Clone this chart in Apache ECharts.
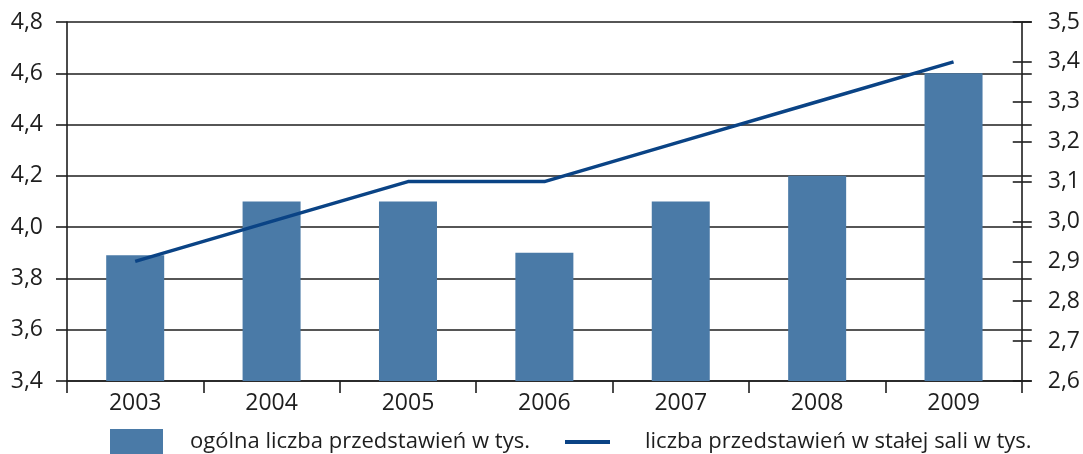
<!DOCTYPE html>
<html>
<head>
<meta charset="utf-8">
<script src="https://cdn.jsdelivr.net/npm/echarts@6/dist/echarts.min.js"></script>
<style>html,body{margin:0;padding:0;background:#fff}#c{width:1083px;height:454px}</style>
</head>
<body>
<div id="c"></div>
<script>
const years = ['2003','2004','2005','2006','2007','2008','2009'];
const totalShows = [3.89, 4.1, 4.1, 3.9, 4.1, 4.2, 4.6];
const hallShows = [2.9, 3.0, 3.1, 3.1, 3.2, 3.3, 3.4];
const barName = 'ogólna liczba przedstawień w tys.';
const lineName = 'liczba przedstawień w stałej sali w tys.';

const FONT = 'Open Sans';
const INK = '#1e1e1e';
const fmt = v => v.toFixed(1).replace('.', ',');

const chart = echarts.init(document.getElementById('c'), null, {renderer: 'canvas'});
chart.setOption({
  animation: false,
  backgroundColor: '#fff',
  textStyle: {fontFamily: FONT, color: INK},
  grid: {left: 67, right: 60, top: 22, bottom: 73, containLabel: false},
  legend: [
    {
      data: [{name: barName, icon: 'rect'}],
      left: 110, top: 429, padding: 0,
      itemWidth: 53, itemHeight: 26,
      textStyle: {fontFamily: FONT, fontSize: 22, color: INK, lineHeight: 26, padding: [0, 0, 0, 22]}
    },
    {
      data: [{name: lineName, icon: 'rect'}],
      left: 565, top: 429, padding: 0,
      itemWidth: 45, itemHeight: 4,
      textStyle: {fontFamily: FONT, fontSize: 22, color: INK, lineHeight: 26, padding: [0, 0, 0, 30]}
    }
  ],
  xAxis: {
    type: 'category',
    data: years,
    boundaryGap: true,
    axisLine: {lineStyle: {color: INK, width: 1.6}},
    axisTick: {show: true, length: 12, lineStyle: {color: INK, width: 1.6}},
    axisLabel: {fontFamily: FONT, fontSize: 23, color: INK, margin: 11},
    splitLine: {show: false}
  },
  yAxis: [
    {
      type: 'value', position: 'left', min: 3.4, max: 4.8, interval: 0.2,
      axisLine: {show: true, lineStyle: {color: INK, width: 1.6}},
      axisTick: {show: true, length: 11, lineStyle: {color: INK, width: 1.6}},
      axisLabel: {fontFamily: FONT, fontSize: 23, color: INK, margin: 24, formatter: fmt},
      splitLine: {show: true, lineStyle: {color: INK, width: 1.6}}
    },
    {
      type: 'value', position: 'right', min: 2.6, max: 3.5, interval: 0.1,
      axisLine: {show: true, lineStyle: {color: INK, width: 1.6}},
      axisTick: {show: true, length: 10, lineStyle: {color: INK, width: 1.6}},
      axisLabel: {fontFamily: FONT, fontSize: 23, color: INK, margin: 26, formatter: fmt},
      splitLine: {show: false}
    },
    {
      type: 'value', position: 'right', min: 3.4, max: 4.8, interval: 0.2,
      axisLine: {show: false},
      axisTick: {show: true, length: 10, lineStyle: {color: INK, width: 1.6}},
      axisLabel: {show: false},
      splitLine: {show: false}
    },
    {
      type: 'value', position: 'right', min: 2.6, max: 3.5, interval: 0.1,
      axisLine: {show: false},
      axisTick: {show: true, inside: true, length: 9, lineStyle: {color: INK, width: 1.6}},
      axisLabel: {show: false},
      splitLine: {show: false}
    }
  ],
  series: [
    {
      name: barName, type: 'bar', yAxisIndex: 0,
      data: totalShows, barWidth: 58,
      itemStyle: {color: '#4a7aa7'}
    },
    {
      name: lineName, type: 'line', yAxisIndex: 1,
      data: hallShows, symbol: 'none', showSymbol: false,
      lineStyle: {color: '#0a4385', width: 3.5},
      itemStyle: {color: '#0a4385'}
    }
  ]
});
</script>
</body>
</html>
